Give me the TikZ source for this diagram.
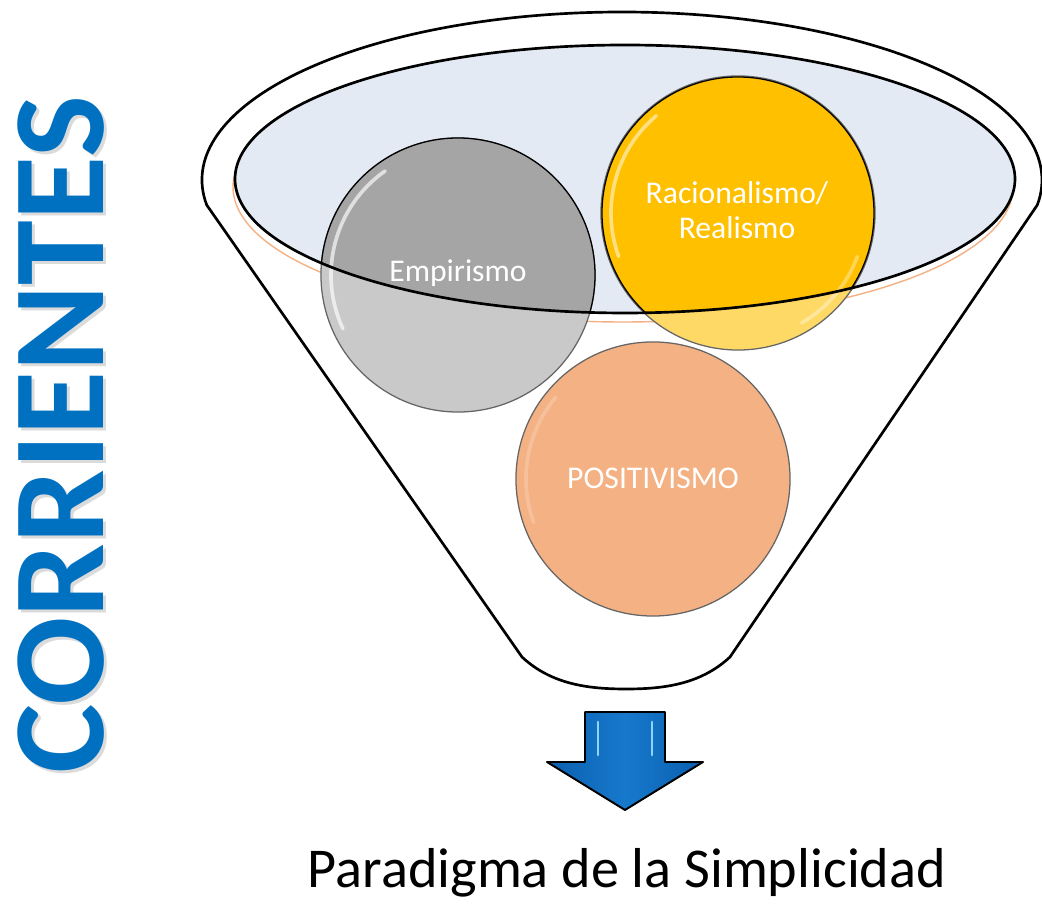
\documentclass[tikz,border=0pt]{standalone}
\usepackage{fontspec}
\setmainfont{Carlito}
\definecolor{corblue}{HTML}{0070C0}
\definecolor{glassblue}{HTML}{E4EAF4}
\definecolor{rimorange}{HTML}{F4B183}
\definecolor{grayD}{HTML}{A5A5A5}
\definecolor{grayL}{HTML}{C9C9C9}
\definecolor{yelD}{HTML}{FFC000}
\definecolor{yelL}{HTML}{FFD966}
\definecolor{posC}{HTML}{F4B183}
\definecolor{arrD}{HTML}{0A5FAE}
\definecolor{arrM}{HTML}{1779CC}
\definecolor{arrH}{HTML}{8FD3FF}
\begin{document}
\begin{tikzpicture}[x=0.025cm,y=0.025cm,
  funnel/.style={draw=black, line width=1.9pt, fill=white, line join=round},
  ball/.style={circle, minimum size=6.85cm, inner sep=0pt, draw=black!60, line width=0.9pt},
  lbl/.style={text=white, font=\fontsize{22.5}{25}\selectfont, align=center},
  shine/.style={white, opacity=0.65, line width=2.6pt, line cap=round},
  arrowsty/.style={draw=black, line width=1.4pt, line join=round, left color=arrD, right color=arrD, middle color=arrM}]
\useasboundingbox (0,0) rectangle (1042,907);

% funnel body
\draw[funnel] (522,250) -- (206.7,702)
  arc[start angle=188.56, end angle=-8.56, x radius=420, y radius=168]
  -- (730,250) .. controls (700,222) and (662,218) .. (626,218)
  .. controls (590,218) and (552,222) .. (522,250) -- cycle;

% rim of the glass
\draw[rimorange, line width=1pt] (623,720) ellipse[x radius=390, y radius=135];
\fill[glassblue] (625,728) ellipse[x radius=390, y radius=134];

% circles (lighter part outside the rim)
\node[ball, fill=grayL] (emp) at (458,632) {};
\node[ball, fill=yelL] (rac) at (738,694) {};
\node[ball, fill=posC] (pos) at (653,428) {};

% darker part inside the rim
\begin{scope}
  \clip (625,728) ellipse[x radius=390, y radius=134];
  \fill[grayD] (emp.center) circle[radius=137];
  \fill[yelD] (rac.center) circle[radius=136];
  \draw[black, line width=0.9pt] (emp.center) circle[radius=137];
  \draw[black, line width=0.9pt] (rac.center) circle[radius=136];
\end{scope}

% glossy highlights
\draw[shine] ([shift={(205:127)}]emp.center) arc[start angle=205, end angle=125, radius=127];
\draw[shine, opacity=0.5] ([shift={(200:127)}]rac.center) arc[start angle=200, end angle=130, radius=127];
\draw[shine, opacity=0.35] ([shift={(-20:127)}]rac.center) arc[start angle=-20, end angle=-60, radius=127];
\draw[shine, opacity=0.2] ([shift={(200:127)}]pos.center) arc[start angle=200, end angle=140, radius=127];

% front rim line
\draw[black, line width=1.9pt] (625,728) ellipse[x radius=390, y radius=134];

% labels
\node[lbl] (empt) at (458,634) {Empirismo};
\node[lbl] (ract) at (737,697) {Racionalismo/\\Realismo};
\node[lbl] (post) at (653,429) {POSITIVISMO};

% vertical title
\node[rotate=90, text=black!40, opacity=0.35, font=\fontsize{93}{93}\selectfont\bfseries] (corsh) at (64,469) {CORRIENTES};
\node[rotate=90, text=corblue, font=\fontsize{93}{93}\selectfont\bfseries] (cor) at (61,472) {CORRIENTES};

% down arrow
\draw[arrowsty] (585,195) -- (665,195) -- (665,145) -- (703,145) -- (625,97)
  -- (547,145) -- (585,145) -- cycle;
\draw[arrH, line width=2pt, line cap=round] (598,185) -- (598,152);
\draw[arrH, line width=2pt, line cap=round] (652,185) -- (652,152);

% result
\node[anchor=base, font=\fontsize{40}{40}\selectfont] (par) at (627,19) {Paradigma de la Simplicidad};
\end{tikzpicture}
\end{document}
